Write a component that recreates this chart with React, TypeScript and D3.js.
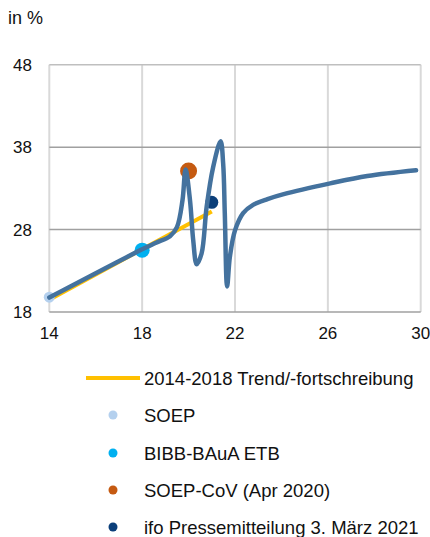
import React, { useEffect, useRef } from 'react';
import * as d3 from 'd3';

// x ticks / y ticks
const xTicks = [14, 18, 22, 26, 30];
const yTicks = [18, 28, 38, 48];

// smoothed blue series
const curveX = [14, 18, 18.6, 19.2, 19.5, 19.74, 19.87, 20.06, 20.2, 20.35, 20.56, 20.78, 21.06, 21.38, 21.49, 21.56, 21.66, 21.78, 22.0, 22.35, 22.78, 23.4, 24.1, 26.1, 27.7, 29.8];
const curveY = [19.75, 25.6, 26.4, 27.2, 28.3, 31.6, 35.3, 31.6, 26.7, 23.8, 25.1, 30.8, 35.6, 38.7, 36.0, 30.0, 21.1, 24.7, 27.9, 30.0, 31.0, 31.7, 32.3, 33.6, 34.5, 35.2];

// trend line 2014-2018 extrapolated
const trendX = [14, 21];
const trendY = [19.5, 30.2];

// single observations
const pointNames = ['SOEP', 'BIBB-BAuA ETB', 'SOEP-CoV (Apr 2020)', 'ifo Pressemitteilung 3. März 2021'];
const pointX = [14, 18, 20, 21];
const pointY = [19.8, 25.5, 35.1, 31.3];
const pointColors = ['#b4d0ee', '#00b0f0', '#c55a11', '#0b3f7a'];
const pointRadius = [5.5, 7.5, 8.5, 6.5];

const trendLabel = '2014-2018 Trend/-fortschreibung';

const W = 430;
const H = 537;

export default function App() {
    const ref = useRef<SVGSVGElement>(null);

    useEffect(() => {
        const svg = d3.select(ref.current);
        svg.selectAll('*').remove();
        const font = 'Liberation Sans, Arial, sans-serif';

        const x = d3.scaleLinear().domain([14, 30]).range([49.3, 420.7]);
        const y = d3.scaleLinear().domain([18, 48]).range([312, 64.7]);

        // vertical grid
        svg.append('g')
            .selectAll('line')
            .data(xTicks)
            .enter()
            .append('line')
            .attr('x1', d => x(d))
            .attr('x2', d => x(d))
            .attr('y1', y(48))
            .attr('y2', y(18))
            .attr('stroke', '#d9d9d9')
            .attr('stroke-width', 2);

        // horizontal grid
        svg.append('g')
            .selectAll('line')
            .data(yTicks)
            .enter()
            .append('line')
            .attr('x1', x(14))
            .attr('x2', x(30))
            .attr('y1', d => y(d))
            .attr('y2', d => y(d))
            .attr('stroke', d => (d === 48 ? '#bfbfbf' : '#a0a0a0'))
            .attr('stroke-width', 1.5);

        // tick labels
        svg.append('g')
            .selectAll('text')
            .data(yTicks)
            .enter()
            .append('text')
            .attr('x', 32)
            .attr('y', d => y(d) + 6)
            .attr('text-anchor', 'end')
            .attr('font-family', font)
            .attr('font-size', 17)
            .attr('fill', '#111')
            .text(d => d);

        svg.append('g')
            .selectAll('text')
            .data(xTicks)
            .enter()
            .append('text')
            .attr('x', d => x(d))
            .attr('y', 339)
            .attr('text-anchor', 'middle')
            .attr('font-family', font)
            .attr('font-size', 17)
            .attr('fill', '#111')
            .text(d => d);

        svg.append('text')
            .attr('x', 8)
            .attr('y', 24)
            .attr('font-family', font)
            .attr('font-size', 18)
            .attr('fill', '#111')
            .text('in %');

        // trend
        const trend = d3.zip(trendX, trendY);
        svg.append('path')
            .datum(trend)
            .attr('d', d3.line<number[]>().x(d => x(d[0])).y(d => y(d[1])))
            .attr('fill', 'none')
            .attr('stroke', '#ffc000')
            .attr('stroke-width', 4);

        // points under the blue line
        const pts = pointX.map((v, i) => ({ x: v, y: pointY[i], c: pointColors[i], r: pointRadius[i] }));
        svg.append('g')
            .selectAll('circle')
            .data(pts)
            .enter()
            .append('circle')
            .attr('cx', d => x(d.x))
            .attr('cy', d => y(d.y))
            .attr('r', d => d.r)
            .attr('fill', d => d.c);

        const curve = d3.zip(curveX, curveY);
        svg.append('path')
            .datum(curve)
            .attr('d', d3.line<number[]>().x(d => x(d[0])).y(d => y(d[1])).curve(d3.curveCatmullRom.alpha(0.5)))
            .attr('fill', 'none')
            .attr('stroke', '#44729e')
            .attr('stroke-width', 4.5)
            .attr('stroke-linejoin', 'round')
            .attr('stroke-linecap', 'round');

        // legend
        const lg = svg.append('g').attr('font-family', font).attr('font-size', 18.5).attr('fill', '#111');
        lg.append('line')
            .attr('x1', 86)
            .attr('x2', 140)
            .attr('y1', 378)
            .attr('y2', 378)
            .attr('stroke', '#ffc000')
            .attr('stroke-width', 4);
        lg.append('text').attr('x', 144).attr('y', 385).text(trendLabel);

        const rowY = [415, 453, 490, 527];
        const rows = lg.selectAll('g.row')
            .data(pointNames)
            .enter()
            .append('g')
            .attr('class', 'row')
            .attr('transform', (d, i) => `translate(0 ${rowY[i]})`);
        rows.append('circle')
            .attr('cx', 113)
            .attr('cy', 0)
            .attr('r', 4.5)
            .attr('fill', (d, i) => pointColors[i]);
        rows.append('text')
            .attr('x', 144)
            .attr('y', 6.7)
            .text(d => d);
    }, []);

    return (
        <div style={{ position: 'absolute', left: 0, top: 0 }}>
            <svg ref={ref} width={W} height={H} style={{ display: 'block', background: '#fff' }} />
        </div>
    );
}
